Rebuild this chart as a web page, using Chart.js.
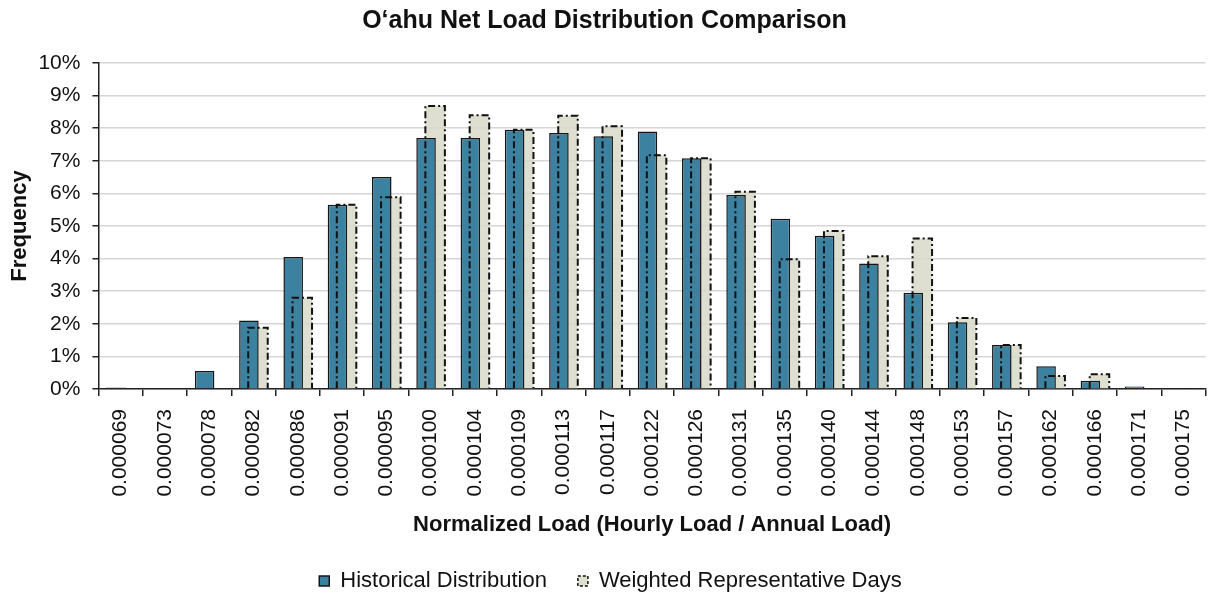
<!DOCTYPE html>
<html>
<head>
<meta charset="utf-8">
<script src="https://cdn.jsdelivr.net/npm/chart.js@4.4.1/dist/chart.umd.min.js"></script>
<style>
  html, body { margin: 0; padding: 0; background: #fff; }
  #wrap { width: 1209px; height: 597px; }
</style>
</head>
<body>
<div id="wrap"><canvas id="chart" width="1209" height="597"></canvas></div>
<script>
// Normalized load bins (x axis)
const loadBins = ["0.000069","0.000073","0.000078","0.000082","0.000086","0.000091","0.000095",
  "0.000100","0.000104","0.000109","0.000113","0.000117","0.000122","0.000126","0.000131",
  "0.000135","0.000140","0.000144","0.000148","0.000153","0.000157","0.000162","0.000166",
  "0.000171","0.000175"];

// Frequency in %
const historical = [0.05, 0.03, 0.55, 2.1, 4.05, 5.65, 6.5, 7.7, 7.7, 7.95, 7.85, 7.75, 7.9, 7.08,
  5.95, 5.22, 4.7, 3.85, 2.95, 2.05, 1.35, 0.7, 0.25, 0.08, 0.03];
const weighted = [0, 0, 0, 1.88, 2.8, 5.65, 5.88, 8.68, 8.4, 7.95, 8.38, 8.06, 7.17, 7.08,
  6.05, 3.98, 4.85, 4.07, 4.62, 2.18, 1.35, 0.4, 0.45, 0, 0];

const font = "Arial, 'Liberation Sans', sans-serif";
const xLabelGap = 13;
const yLabelGap = 12;

// dash-dot outline for the weighted bars (Chart.js bars have no dashed border)
const dashBorder = {
  id: "dashBorder",
  afterDatasetsDraw(chart) {
    const meta = chart.getDatasetMeta(1);
    const ctx = chart.ctx;
    ctx.save();
    ctx.strokeStyle = "#111";
    ctx.lineWidth = 2;
    ctx.setLineDash([7, 3, 2, 3]);
    meta.data.forEach(bar => {
      const p = bar.getProps(["x", "y", "base", "width"], true);
      if (Math.abs(p.base - p.y) < 1) return;
      const l = p.x - p.width / 2, r = p.x + p.width / 2;
      ctx.beginPath();
      ctx.moveTo(l, p.base);
      ctx.lineTo(l, p.y);
      ctx.lineTo(r, p.y);
      ctx.lineTo(r, p.base);
      ctx.stroke();
    });
    ctx.restore();
  }
};

// nudge the legend a little right and down
const legendNudge = {
  id: "legendNudge",
  afterLayout(chart) {
    const lg = chart.legend;
    lg.left += 6; lg.right += 6;
    lg.top += 5; lg.bottom += 5;
  }
};

new Chart(document.getElementById("chart"), {
  type: "bar",
  data: {
    labels: loadBins,
    datasets: [
      {
        label: "Historical Distribution",
        data: historical,
        backgroundColor: "#3d81a0",
        borderColor: "#161616",
        borderWidth: 1.5,
        categoryPercentage: 0.41,
        barPercentage: 2.15
      },
      {
        label: "Weighted Representative Days",
        data: weighted,
        backgroundColor: "rgba(216,217,200,0.85)",
        borderColor: "#111",
        borderWidth: 0,
        categoryPercentage: 0.41,
        barPercentage: 2.15
      }
    ]
  },
  options: {
    responsive: false,
    animation: false,
    layout: { padding: { left: 2, right: 2, top: 0, bottom: 0 } },
    plugins: {
      title: {
        display: true,
        text: "O\u2018ahu Net Load Distribution Comparison",
        color: "#111",
        font: { family: font, size: 25, weight: "bold" },
        padding: { top: 6, bottom: 27 }
      },
      legend: {
        position: "bottom",
        labels: {
          color: "#111",
          font: { family: font, size: 22 },
          boxWidth: 10,
          boxHeight: 10,
          padding: 31,
          generateLabels(chart) {
            const items = Chart.defaults.plugins.legend.labels.generateLabels(chart);
            items[1].lineDash = [3, 2];
            items[1].lineWidth = 1.5;
            items[1].strokeStyle = "#111";
            return items;
          }
        }
      },
      tooltip: { enabled: false }
    },
    scales: {
      x: {
        grid: {
          offset: true,
          drawOnChartArea: false,
          color: "#222",
          lineWidth: 1.5,
          tickLength: 7
        },
        border: { color: "#222", width: 1.5 },
        ticks: {
          color: "#111",
          font: { family: font, size: 21 },
          minRotation: 90,
          maxRotation: 90,
          autoSkip: false,
          padding: xLabelGap
        },
        // tick padding is counted twice in height and added to side padding; undo that
        afterFit(scale) {
          scale.height -= xLabelGap;
          scale.paddingLeft = Math.max(scale.paddingLeft - xLabelGap, 0);
          scale.paddingRight = Math.max(scale.paddingRight - xLabelGap, 0);
        },
        title: {
          display: true,
          text: "Normalized Load (Hourly Load / Annual Load)",
          color: "#111",
          font: { family: font, size: 22, weight: "bold" },
          padding: { top: 15, bottom: -4 }
        }
      },
      y: {
        min: 0,
        max: 10,
        ticks: {
          stepSize: 1,
          color: "#111",
          font: { family: font, size: 21 },
          padding: yLabelGap,
          callback: v => v + "%"
        },
        afterFit(scale) {
          scale.width -= yLabelGap;
        },
        grid: {
          color: "#d6d6d6",
          lineWidth: 1.5,
          tickColor: "#222",
          tickLength: 6
        },
        border: { color: "#222", width: 1.5 },
        title: {
          display: true,
          text: "Frequency",
          color: "#111",
          font: { family: font, size: 22, weight: "bold" },
          padding: { top: 5, bottom: 5 }
        }
      }
    }
  },
  plugins: [dashBorder, legendNudge]
});
</script>
</body>
</html>
